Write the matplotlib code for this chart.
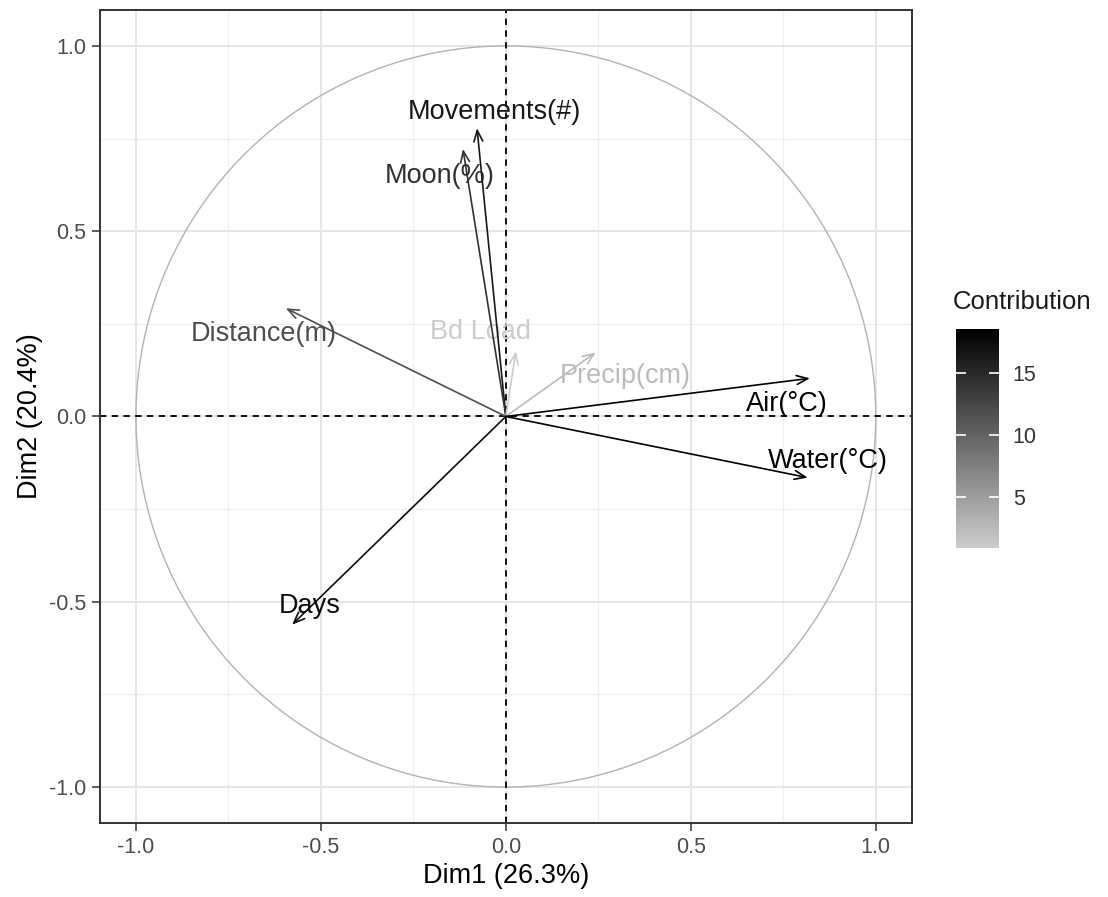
import numpy as np
import matplotlib
matplotlib.use("Agg")
import matplotlib.pyplot as plt
from matplotlib.colors import LinearSegmentedColormap, Normalize
from matplotlib.cm import ScalarMappable

plt.rcParams['font.family'] = ['Liberation Sans', 'DejaVu Sans']

# PCA variable coordinates on the first two dimensions
variables = ["Movements(#)", "Moon(%)", "Distance(m)", "Bd Load", "Precip(cm)",
             "Air(°C)", "Water(°C)", "Days"]
dim1 = [-0.078, -0.116, -0.595, 0.027, 0.243, 0.822, 0.816, -0.578]
dim2 = [0.778, 0.722, 0.292, 0.176, 0.173, 0.103, -0.165, -0.562]
contrib = [16.4, 14.3, 11.8, 0.9, 2.4, 18.4, 18.5, 17.4]
xlabel = "Dim1 (26.3%)"
ylabel = "Dim2 (20.4%)"

# label anchor points (repelled away from the arrow tips)
label_xy = [(-0.032, 0.822), (-0.178, 0.650), (-0.654, 0.222), (-0.068, 0.228),
            (0.324, 0.110), (0.759, 0.034), (0.870, -0.120), (-0.530, -0.512)]

cmap = LinearSegmentedColormap.from_list("contrib", ["#CCCCCC", "#000000"])
norm = Normalize(vmin=min(contrib), vmax=max(contrib))

fig = plt.figure(figsize=(11.08, 8.97), dpi=100)
ax = fig.add_axes([0.0903, 0.0825, 0.7325, 0.9064])

lim = 1.097
ax.set_xlim(-lim, lim)
ax.set_ylim(-lim, lim)

# theme_bw style grid
major = [-1.0, -0.5, 0.0, 0.5, 1.0]
minor = [-0.75, -0.25, 0.25, 0.75]
for v in minor:
    ax.axvline(v, color="#EFEFEF", lw=0.8, zorder=0)
    ax.axhline(v, color="#EFEFEF", lw=0.8, zorder=0)
for v in major:
    ax.axvline(v, color="#E6E6E6", lw=1.4, zorder=0)
    ax.axhline(v, color="#E6E6E6", lw=1.4, zorder=0)

# unit circle
t = np.linspace(0, 2 * np.pi, 400)
ax.plot(np.cos(t), np.sin(t), color="#B3B3B3", lw=1.0, zorder=1)

ax.axhline(0, color="black", lw=1.3, ls=(0, (3.5, 3)), zorder=2)
ax.axvline(0, color="black", lw=1.3, ls=(0, (3.5, 3)), zorder=2)

for name, x, y, c, (lx, ly) in zip(variables, dim1, dim2, contrib, label_xy):
    col = cmap(norm(c))
    ax.text(lx, ly, name, color=col, fontsize=19.5, ha="center", va="center", zorder=3)
    ax.annotate("", xy=(x, y), xytext=(0, 0),
                arrowprops=dict(arrowstyle="->,head_length=0.8,head_width=0.32",
                                color=col, lw=1.2, shrinkA=0, shrinkB=0),
                zorder=4)

ax.set_xticks(major)
ax.set_yticks(major)
ax.set_xticklabels(["-1.0", "-0.5", "0.0", "0.5", "1.0"])
ax.set_yticklabels(["-1.0", "-0.5", "0.0", "0.5", "1.0"])
ax.tick_params(length=6, width=1.1, color="#333333", labelcolor="#4D4D4D",
               labelsize=15.5, pad=4)
for s in ax.spines.values():
    s.set_color("#333333")
    s.set_linewidth(1.4)

ax.set_xlabel(xlabel, fontsize=19.5, labelpad=4)
ax.set_ylabel(ylabel, fontsize=19.5, labelpad=4)

# contribution colour bar
cax = fig.add_axes([0.8628, 0.389, 0.0388, 0.244])
cb = fig.colorbar(ScalarMappable(norm=norm, cmap=cmap), cax=cax)
cb.outline.set_visible(False)
cb.set_ticks([5, 10, 15])
cax.tick_params(direction="in", length=7, width=1.2, color="white",
                left=True, right=True, labelsize=15.5, labelcolor="#333333", pad=10)
fig.text(0.86, 0.663, "Contribution", fontsize=18.5, ha="left", va="center",
         color="#1A1A1A")

fig.savefig("out.png", dpi=100)
